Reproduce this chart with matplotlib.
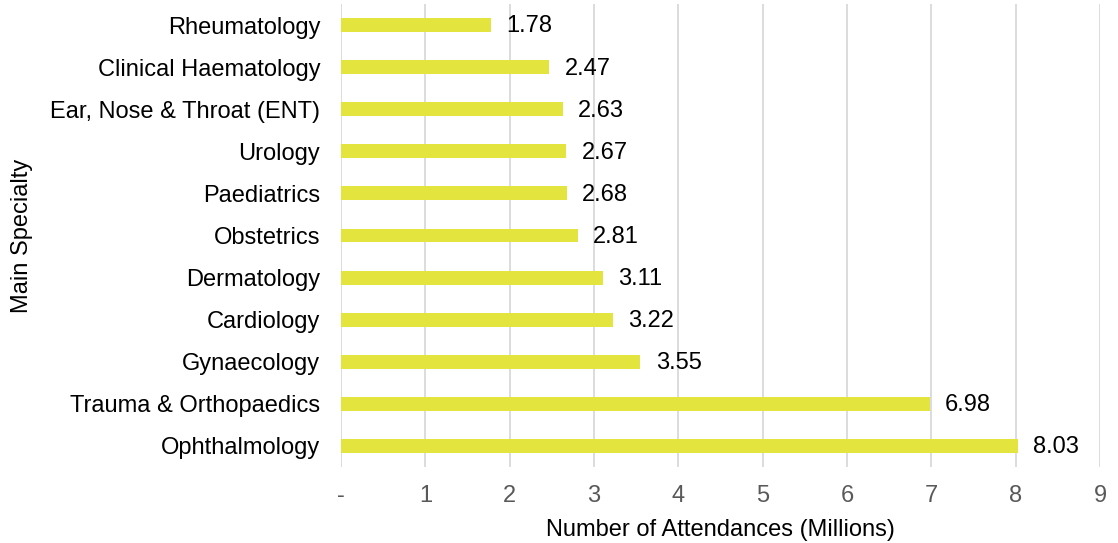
import matplotlib
matplotlib.use("Agg")
import matplotlib.pyplot as plt
from matplotlib.ticker import FuncFormatter

specialties = ["Rheumatology", "Clinical Haematology", "Ear, Nose & Throat (ENT)", "Urology",
               "Paediatrics", "Obstetrics", "Dermatology", "Cardiology", "Gynaecology",
               "Trauma & Orthopaedics", "Ophthalmology"]
attendances = [1.78, 2.47, 2.63, 2.67, 2.68, 2.81, 3.11, 3.22, 3.55, 6.98, 8.03]
x_ticks = [0, 1, 2, 3, 4, 5, 6, 7, 8, 9]

plt.rcParams['font.family'] = ['Liberation Sans', 'DejaVu Sans']
FS = 17

fig = plt.figure(figsize=(11.18, 5.43), dpi=100)
ax = fig.add_axes([341/1118, 76/543, (1100-341)/1118, 463/543])

ypos = list(range(len(specialties)))
ax.barh(ypos, attendances, height=0.33, color="#E4E43F", zorder=3)
ax.set_ylim(len(specialties) - 0.5, -0.5)
ax.set_xlim(0, 9)
ax.set_yticks(ypos)
ax.set_yticklabels(specialties, fontsize=FS, color="#000000")
ax.set_xticks(x_ticks)
ax.xaxis.set_major_formatter(FuncFormatter(lambda v, p: "-" if v == 0 else f"{int(v)}"))
ax.tick_params(axis='x', length=0, pad=13, labelsize=FS, labelcolor="#595959")
ax.tick_params(axis='y', length=0, pad=15)
ax.grid(axis='x', color="#D9D9D9", linewidth=1.3, zorder=0)
for s in ax.spines.values():
    s.set_visible(False)

for y, v in zip(ypos, attendances):
    ax.annotate(f"{v:.2f}", xy=(v, y), xytext=(11, -1), textcoords="offset points",
                va="center", ha="left", fontsize=FS, color="#000000")

ax.set_xlabel("Number of Attendances (Millions)", fontsize=FS)
ax.set_ylabel("Main Specialty", fontsize=FS)
ax.xaxis.set_label_coords((720 - 341) / 759, (467 - 530) / 463)
ax.yaxis.set_label_coords((22 - 341) / 759, 0.5)
ax.xaxis.label.set_va("center")
ax.yaxis.label.set_va("center")

fig.savefig("out.png", dpi=100)
